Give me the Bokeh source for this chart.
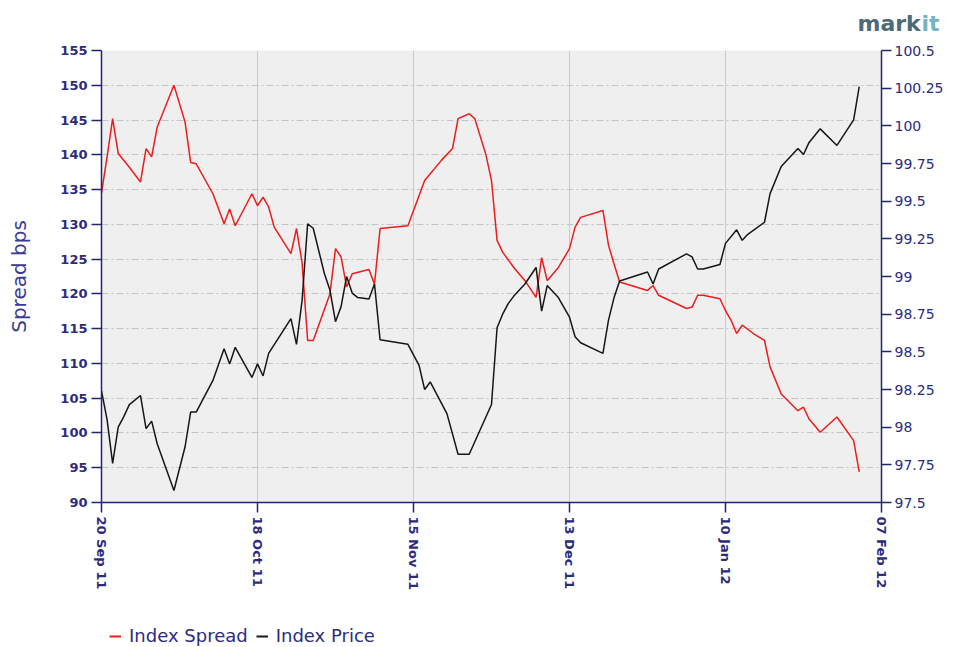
from datetime import datetime
from bokeh.plotting import figure
from bokeh.layouts import column, row
from bokeh.models import (Range1d, LinearAxis, FixedTicker, DatetimeTickFormatter,
                          CustomJSTickFormatter, Legend, LegendItem)
from bokeh.core.properties import value
from bokeh.embed import file_html
from bokeh.resources import INLINE

# ---------------- data ----------------
spread_dates = [
    "2011-09-20", "2011-09-21", "2011-09-22", "2011-09-23", "2011-09-25", "2011-09-27",
    "2011-09-28", "2011-09-29", "2011-09-30", "2011-10-03", "2011-10-05", "2011-10-06",
    "2011-10-07", "2011-10-10", "2011-10-12", "2011-10-13", "2011-10-14", "2011-10-17",
    "2011-10-18", "2011-10-19", "2011-10-20", "2011-10-21", "2011-10-24", "2011-10-25",
    "2011-10-26", "2011-10-27", "2011-10-28", "2011-10-31", "2011-11-01", "2011-11-02",
    "2011-11-03", "2011-11-04", "2011-11-07", "2011-11-08", "2011-11-09", "2011-11-14",
    "2011-11-17", "2011-11-20", "2011-11-22", "2011-11-23", "2011-11-25", "2011-11-26",
    "2011-11-28", "2011-11-29", "2011-11-30", "2011-12-01", "2011-12-03", "2011-12-05",
    "2011-12-07", "2011-12-08", "2011-12-09", "2011-12-11", "2011-12-13", "2011-12-14",
    "2011-12-15", "2011-12-19", "2011-12-20", "2011-12-21", "2011-12-22", "2011-12-27",
    "2011-12-28", "2011-12-29", "2012-01-03", "2012-01-04", "2012-01-05", "2012-01-06",
    "2012-01-09", "2012-01-10", "2012-01-11", "2012-01-12", "2012-01-13", "2012-01-15",
    "2012-01-17", "2012-01-18", "2012-01-20", "2012-01-23", "2012-01-24", "2012-01-25",
    "2012-01-27", "2012-01-30", "2012-02-02", "2012-02-03",
]
spread_bps = [
    134.5, 139.7, 145.2, 140.2, 138.2, 136.1,
    140.9, 139.7, 144.0, 150.0, 144.7, 138.9,
    138.7, 134.4, 130.1, 132.2, 129.8, 134.4,
    132.7, 133.9, 132.5, 129.6, 125.8, 129.4,
    124.5, 113.3, 113.3, 120.0, 126.5, 125.3,
    121.0, 122.9, 123.5, 121.4, 129.4, 129.8,
    136.3, 139.2, 140.9, 145.2, 145.9, 145.2,
    140.0, 136.3, 127.7, 126.0, 123.8, 121.9,
    119.5, 125.2, 121.9, 123.8, 126.5, 129.6,
    131.0, 132.0, 127.0, 124.3, 121.7, 120.5,
    121.2, 119.8, 117.9, 118.1, 119.8, 119.8,
    119.3, 117.6, 116.2, 114.3, 115.5, 114.3,
    113.3, 109.5, 105.6, 103.2, 103.7, 102.0,
    100.1, 102.3, 98.9, 94.4,
]

price_dates = [
    "2011-09-20", "2011-09-21", "2011-09-22", "2011-09-23", "2011-09-24", "2011-09-25",
    "2011-09-27", "2011-09-28", "2011-09-29", "2011-09-30", "2011-10-03", "2011-10-05",
    "2011-10-06", "2011-10-07", "2011-10-10", "2011-10-12", "2011-10-13", "2011-10-14",
    "2011-10-17", "2011-10-18", "2011-10-19", "2011-10-20", "2011-10-24", "2011-10-25",
    "2011-10-26", "2011-10-27", "2011-10-28", "2011-10-30", "2011-10-31", "2011-11-01",
    "2011-11-02", "2011-11-03", "2011-11-04", "2011-11-05", "2011-11-07", "2011-11-08",
    "2011-11-09", "2011-11-14", "2011-11-16", "2011-11-17", "2011-11-18", "2011-11-21",
    "2011-11-23", "2011-11-25", "2011-11-29", "2011-11-30", "2011-12-01", "2011-12-02",
    "2011-12-03", "2011-12-05", "2011-12-07", "2011-12-08", "2011-12-09", "2011-12-11",
    "2011-12-13", "2011-12-14", "2011-12-15", "2011-12-19", "2011-12-20", "2011-12-21",
    "2011-12-22", "2011-12-27", "2011-12-28", "2011-12-29", "2012-01-03", "2012-01-04",
    "2012-01-05", "2012-01-06", "2012-01-09", "2012-01-10", "2012-01-12", "2012-01-13",
    "2012-01-14", "2012-01-17", "2012-01-18", "2012-01-20", "2012-01-23", "2012-01-24",
    "2012-01-25", "2012-01-27", "2012-01-30", "2012-02-02", "2012-02-03",
]
index_price = [
    98.24, 98.05, 97.76, 98.00, 98.07, 98.15,
    98.21, 97.99, 98.04, 97.89, 97.58, 97.87,
    98.10, 98.10, 98.31, 98.52, 98.42, 98.53,
    98.33, 98.42, 98.34, 98.49, 98.72, 98.55,
    98.84, 99.35, 99.32, 99.02, 98.91, 98.70,
    98.80, 99.00, 98.89, 98.86, 98.85, 98.95,
    98.58, 98.55, 98.41, 98.25, 98.30, 98.09,
    97.82, 97.82, 98.15, 98.66, 98.75, 98.82,
    98.87, 98.95, 99.06, 98.77, 98.94, 98.86,
    98.73, 98.60, 98.56, 98.49, 98.71, 98.86,
    98.97, 99.03, 98.95, 99.05, 99.15, 99.13,
    99.05, 99.05, 99.08, 99.22, 99.31, 99.24,
    99.28, 99.36, 99.55, 99.73, 99.85, 99.81,
    99.89, 99.98, 99.87, 100.04, 100.26,
]

x_tick_labels = ["20 Sep 11", "18 Oct 11", "15 Nov 11", "13 Dec 11", "10 Jan 12", "07 Feb 12"]
spread_ticks = [90, 95, 100, 105, 110, 115, 120, 125, 130, 135, 140, 145, 150, 155]
price_ticks = [97.5, 97.75, 98.0, 98.25, 98.5, 98.75, 99.0, 99.25, 99.5, 99.75, 100.0, 100.25, 100.5]
series_names = ["Index Spread", "Index Price"]
logo_parts = ["mark", "it"]

# ---------------- styling constants ----------------
NAVY = "#24246f"
TEXT = "#2c2c7c"
RED = "#ee1c1c"
BLACK = "#161616"
W = 959

EPOCH = datetime(1970, 1, 1)


def to_dt(s):
    return datetime.strptime(s, "%Y-%m-%d")


def to_ms(d):
    return (d - EPOCH).total_seconds() * 1000.0


spread_x = [to_dt(s) for s in spread_dates]
price_x = [to_dt(s) for s in price_dates]
tick_dates = [datetime.strptime(s, "%d %b %y") for s in x_tick_labels]


def blank_figure(height):
    f = figure(width=W, height=height, x_range=Range1d(0, W), y_range=Range1d(0, height),
               title=None, output_backend="svg", toolbar_location=None,
               x_axis_location=None, y_axis_location=None,
               min_border=0, min_border_left=0, min_border_right=0,
               min_border_top=0, min_border_bottom=0)
    f.grid.visible = False
    f.outline_line_color = None
    f.background_fill_color = "white"
    f.border_fill_color = "white"
    return f


# ---------------- logo strip (top) ----------------
top = blank_figure(40)
top.text(x=[857], y=[17], text=[logo_parts[0]], text_font=value("DejaVu Sans"),
         text_font_size="22px", text_font_style="bold", text_color="#4d6a78",
         text_baseline="middle", text_align="left")
top.text(x=[921], y=[17], text=[logo_parts[1]], text_font=value("DejaVu Sans"),
         text_font_size="22px", text_font_style="bold", text_color="#74b3c2",
         text_baseline="middle", text_align="left")

# ---------------- main chart ----------------
p = figure(
    width=W, height=557,
    x_axis_type="datetime",
    x_range=Range1d(tick_dates[0], tick_dates[-1]),
    y_range=Range1d(spread_ticks[0], spread_ticks[-1]),
    output_backend="svg", toolbar_location=None,
    min_border_left=101, min_border_right=78, min_border_top=10, min_border_bottom=95,
)
p.extra_y_ranges = {"price": Range1d(price_ticks[0], price_ticks[-1])}

p.background_fill_color = "#efefef"
p.border_fill_color = "white"
p.outline_line_color = None

xa = p.xaxis[0]
xa.ticker = FixedTicker(ticks=[to_ms(d) for d in tick_dates])
fmt = "%d %b %y"
xa.formatter = DatetimeTickFormatter(
    microseconds=fmt, milliseconds=fmt, seconds=fmt, minsec=fmt, minutes=fmt,
    hourmin=fmt, hours=fmt, days=fmt, months=fmt, years=fmt,
    strip_leading_zeros=False, context=None,
)
xa.major_label_orientation = "vertical"

ya = p.yaxis[0]
ya.ticker = FixedTicker(ticks=spread_ticks)
ya.axis_label = "Spread bps"
ya.axis_label_text_font = "DejaVu Sans"
ya.axis_label_text_font_size = "20px"
ya.axis_label_text_font_style = "normal"
ya.axis_label_text_color = "#3a3a90"
ya.axis_label_standoff = 26

ra = LinearAxis(
    y_range_name="price",
    ticker=FixedTicker(ticks=price_ticks),
    formatter=CustomJSTickFormatter(code="return tick.toString();"),
)
p.add_layout(ra, "right")

for ax in (xa, ya, ra):
    ax.axis_line_color = NAVY
    ax.axis_line_width = 1.5
    ax.major_tick_line_color = NAVY
    ax.major_tick_line_width = 1.5
    ax.major_tick_in = 0
    ax.major_tick_out = 10
    ax.minor_tick_line_color = None
    ax.major_label_text_color = TEXT
    ax.major_label_standoff = 4

for ax in (xa, ya):
    ax.major_label_text_font = "DejaVu Sans"
    ax.major_label_text_font_style = "bold"
    ax.major_label_text_font_size = "13px"
ra.major_label_text_font = "DejaVu Sans"
ra.major_label_text_font_style = "normal"
ra.major_label_text_font_size = "14px"
ra.major_label_standoff = 3

p.xgrid.grid_line_color = "#c9c9c9"
p.xgrid.grid_line_width = 1
p.ygrid.grid_line_color = "#c4c4c4"
p.ygrid.grid_line_dash = "7 3 2 3"
p.ygrid.grid_line_width = 1

r_spread = p.line(spread_x, spread_bps, line_color=RED, line_width=1.5)
r_price = p.line(price_x, index_price, y_range_name="price", line_color=BLACK, line_width=1.5)

# ---------------- legend strip (bottom) ----------------
# the legend proxies use the real series; their values lie outside this strip's
# ranges, so only their legend swatches are drawn
bottom = blank_figure(50)
k_spread = bottom.line(spread_x, spread_bps, line_color=RED, line_width=2)
k_price = bottom.line(price_x, index_price, line_color=BLACK, line_width=2)
legend = Legend(
    items=[LegendItem(label=series_names[0], renderers=[k_spread]),
           LegendItem(label=series_names[1], renderers=[k_price])],
    orientation="horizontal",
    location=(109, 1),
    padding=0, margin=0, spacing=8,
    glyph_width=12, glyph_height=20, label_height=20, label_standoff=8,
    label_text_font="DejaVu Sans", label_text_font_size="18px", label_text_color=TEXT,
    background_fill_alpha=0, border_line_color=None,
)
bottom.add_layout(legend, "center")

layout = column(row(top), p, row(bottom), spacing=0)
open("out.html", "w").write(file_html(layout, INLINE))
